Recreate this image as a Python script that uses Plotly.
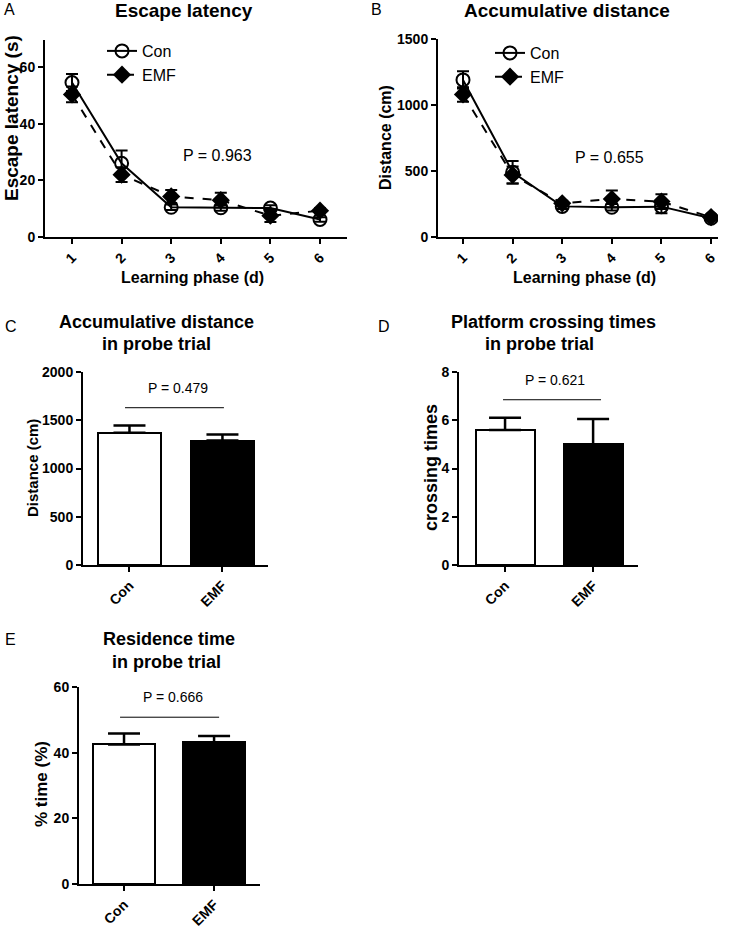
import plotly.graph_objects as go

# ---------------- data ----------------
days = [1, 2, 3, 4, 5, 6]
latency_con = [54.5, 26.0, 10.5, 10.3, 10.2, 6.2]
latency_con_sem = [3.0, 4.5, 1.0, 1.0, 1.0, 0.8]
latency_emf = [50.3, 22.0, 14.3, 13.0, 7.5, 9.3]
latency_emf_sem = [2.8, 2.6, 2.3, 2.6, 2.2, 0.8]

distance_con = [1190, 490, 232, 225, 230, 142]
distance_con_sem = [65, 85, 20, 25, 50, 15]
distance_emf = [1080, 470, 255, 288, 268, 150]
distance_emf_sem = [55, 65, 20, 65, 55, 15]

groups = ["Con", "EMF"]
probe_distance = [1370, 1290]
probe_distance_sem = [76, 62]
crossing_times = [5.6, 5.0]
crossing_times_sem = [0.5, 1.05]
residence_time = [42.5, 43.2]
residence_time_sem = [3.3, 1.9]

p_values = {"A": "P = 0.963", "B": "P = 0.655", "C": "P = 0.479", "D": "P = 0.621", "E": "P = 0.666"}

# ---------------- helpers ----------------
W, H = 739, 929
FONT = "Arial, 'Liberation Sans', sans-serif"


def xd(a, b):
    return [a / W, b / W]


def yd(top, bottom):
    return [1 - bottom / H, 1 - top / H]


def px(x):
    return x / W


def py(y):
    return 1 - y / H


def axis_common(**kw):
    d = dict(showline=True, linecolor="black", linewidth=2, ticks="outside",
             ticklen=5, tickwidth=2, tickcolor="black", showgrid=False,
             zeroline=False, automargin=False, fixedrange=True,
             tickfont=dict(family=FONT, size=14, color="black", weight="bold"))
    d.update(kw)
    return d


fig = go.Figure()

# ---------------- Panel A ----------------
fig.add_trace(go.Scatter(
    x=days, y=latency_con, name="Con", mode="lines+markers",
    line=dict(color="black", width=2),
    marker=dict(symbol="circle-open", size=13, color="black", line=dict(width=2)),
    error_y=dict(type="data", array=latency_con_sem, color="black", thickness=2, width=6),
    xaxis="x", yaxis="y", legend="legend"))
fig.add_trace(go.Scatter(
    x=days, y=latency_emf, name="EMF", mode="lines+markers",
    line=dict(color="black", width=2, dash="dash"),
    marker=dict(symbol="diamond", size=14, color="black"),
    error_y=dict(type="data", array=latency_emf_sem, color="black", thickness=2, width=6),
    xaxis="x", yaxis="y", legend="legend"))

# ---------------- Panel B ----------------
fig.add_trace(go.Scatter(
    x=days, y=distance_con, name="Con", mode="lines+markers",
    line=dict(color="black", width=2),
    marker=dict(symbol="circle-open", size=13, color="black", line=dict(width=2)),
    error_y=dict(type="data", array=distance_con_sem, color="black", thickness=2, width=6),
    xaxis="x2", yaxis="y2", legend="legend2"))
fig.add_trace(go.Scatter(
    x=days, y=distance_emf, name="EMF", mode="lines+markers",
    line=dict(color="black", width=2, dash="dash"),
    marker=dict(symbol="diamond", size=14, color="black"),
    error_y=dict(type="data", array=distance_emf_sem, color="black", thickness=2, width=6),
    xaxis="x2", yaxis="y2", legend="legend2"))

# ---------------- Bar panels ----------------
def add_bars(vals, sems, xa, ya, width):
    fig.add_trace(go.Bar(
        x=[0, 1], y=vals, width=width,
        marker=dict(color=["white", "black"], line=dict(color="black", width=2)),
        error_y=dict(type="data", array=sems, arrayminus=[0, 0], symmetric=False,
                     color="black", thickness=2.5, width=16),
        xaxis=xa, yaxis=ya, showlegend=False))


add_bars(probe_distance, probe_distance_sem, "x3", "y3", 0.677)
add_bars(crossing_times, crossing_times_sem, "x4", "y4", 0.67)
add_bars(residence_time, residence_time_sem, "x5", "y5", 0.68)

CAT_FONT = dict(family=FONT, size=14, color="black", weight="bold")

layout = dict(
    template="none",
    width=W, height=H, margin=dict(l=0, r=0, t=0, b=0, pad=0), autosize=False,
    paper_bgcolor="white", plot_bgcolor="white",
    font=dict(family=FONT, color="black"),
    bargap=0,
    xaxis=axis_common(domain=xd(45, 347), range=[0.456, 6.544], anchor="y",
                      tickvals=days, tickangle=-45),
    yaxis=axis_common(domain=yd(40, 237), range=[0, 69.5], anchor="x",
                      tickvals=[0, 20, 40, 60]),
    xaxis2=axis_common(domain=xd(438, 718), range=[0.496, 6.14], anchor="y2",
                       tickvals=days, tickangle=-45),
    yaxis2=axis_common(domain=yd(39, 237), range=[0, 1500], anchor="x2",
                       tickvals=[0, 500, 1000, 1500]),
    xaxis3=axis_common(domain=xd(83, 268), range=[-0.5, 1.49], anchor="y3",
                       tickvals=[0, 1], ticktext=groups, tickangle=-45, tickfont=CAT_FONT),
    yaxis3=axis_common(domain=yd(372, 565), range=[0, 2000], anchor="x3",
                       tickvals=[0, 500, 1000, 1500, 2000]),
    xaxis4=axis_common(domain=xd(459, 638), range=[-0.523, 1.51], anchor="y4",
                       tickvals=[0, 1], ticktext=groups, tickangle=-45, tickfont=CAT_FONT),
    yaxis4=axis_common(domain=yd(372, 565), range=[0, 8], anchor="x4",
                       tickvals=[0, 2, 4, 6, 8]),
    xaxis5=axis_common(domain=xd(79, 260), range=[-0.5, 1.51], anchor="y5",
                       tickvals=[0, 1], ticktext=groups, tickangle=-45, tickfont=CAT_FONT),
    yaxis5=axis_common(domain=yd(687, 884), range=[0, 60], anchor="x5",
                       tickvals=[0, 20, 40, 60]),
    legend=dict(x=px(102), y=py(34), xanchor="left", yanchor="top",
                font=dict(family=FONT, size=16, color="black"),
                bgcolor="rgba(0,0,0,0)", tracegroupgap=0, itemwidth=30),
    legend2=dict(x=px(490), y=py(36), xanchor="left", yanchor="top",
                 font=dict(family=FONT, size=16, color="black"),
                 bgcolor="rgba(0,0,0,0)", tracegroupgap=0, itemwidth=30),
)

annotations = []


def ann(text, x, y, size, bold=False, angle=0, xref="paper", yref="paper"):
    annotations.append(dict(
        text=text, x=x, y=y, xref=xref, yref=yref, showarrow=False,
        xanchor="center", yanchor="middle", textangle=angle,
        font=dict(family=FONT, size=size, color="black", weight="bold" if bold else "normal")))


# panel letters
ann("A", px(9), py(10), 16)
ann("B", px(376), py(10), 16)
ann("C", px(11), py(327), 16)
ann("D", px(384), py(327), 16)
ann("E", px(10), py(639), 16)

# titles
ann("Escape latency", px(184), py(11), 19, bold=True)
ann("Accumulative distance", px(567), py(11), 19, bold=True)
ann("Accumulative distance", px(156), py(322), 18, bold=True)
ann("in probe trial", px(156), py(344), 18, bold=True)
ann("Platform crossing times", px(553), py(322), 18, bold=True)
ann("in probe trial", px(539), py(344), 18, bold=True)
ann("Residence time", px(169), py(639), 18, bold=True)
ann("in probe trial", px(166), py(662), 18, bold=True)

# axis titles
ann("Escape latency (s)", px(11), py(118), 19, bold=True, angle=-90)
ann("Learning phase (d)", px(192), py(277), 16, bold=True)
ann("Distance (cm)", px(386), py(138), 16, bold=True, angle=-90)
ann("Learning phase (d)", px(584), py(277), 16, bold=True)
ann("Distance (cm)", px(32), py(468), 15, bold=True, angle=-90)
ann("crossing times", px(431), py(468), 18, bold=True, angle=-90)
ann("% time (%)", px(41), py(784), 17, bold=True, angle=-90)

# p-values
ann(p_values["A"], 3.94, 28.9, 16, xref="x", yref="y")
ann(p_values["B"], 3.96, 606, 16, xref="x2", yref="y2")
ann(p_values["C"], px(178), py(388), 14)
ann(p_values["D"], px(555), py(380), 14)
ann(p_values["E"], px(173), py(697), 14)

layout["annotations"] = annotations

# significance lines
layout["shapes"] = [
    dict(type="line", xref="x3", yref="y3", x0=-0.048, x1=1.016, y0=1630, y1=1630,
         line=dict(color="black", width=1)),
    dict(type="line", xref="x4", yref="y4", x0=-0.023, x1=1.09, y0=6.85, y1=6.85,
         line=dict(color="black", width=1)),
    dict(type="line", xref="x5", yref="y5", x0=-0.044, x1=1.056, y0=50.8, y1=50.8,
         line=dict(color="black", width=1)),
]

fig.update_layout(**layout)
fig.write_html("out.html", config={"displayModeBar": False},
               post_script="document.body.style.margin='0';document.body.style.overflow='hidden';")
